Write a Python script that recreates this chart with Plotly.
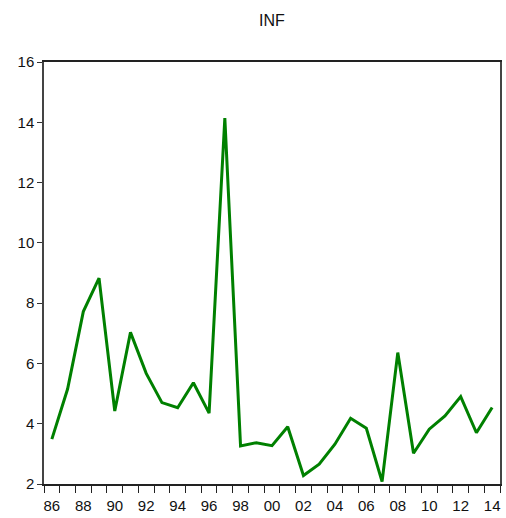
import plotly.graph_objects as go

years = list(range(1986, 2015))
inf = [3.49, 5.15, 7.72, 8.83, 4.42, 7.03, 5.67, 4.70, 4.53, 5.36,
       4.35, 14.14, 3.26, 3.37, 3.27, 3.90, 2.28, 2.66, 3.32, 4.18,
       3.85, 2.08, 6.36, 3.02, 3.82, 4.26, 4.90, 3.70, 4.54]
x_label_years = list(range(1986, 2015, 2))
x_labels = [f"{y % 100:02d}" for y in x_label_years]
y_ticks = [2, 4, 6, 8, 10, 12, 14, 16]

FONT = "Liberation Sans Narrow, Arial Narrow, Liberation Sans, Arial, sans-serif"

fig = go.Figure()
fig.add_trace(go.Scatter(x=years, y=inf, mode="lines",
                         line=dict(color="#008000", width=3)))

fig.update_layout(
    width=506, height=518,
    margin=dict(l=44, r=6, t=62, b=34),
    paper_bgcolor="white", plot_bgcolor="white",
    showlegend=False,
    font=dict(family=FONT, size=15, color="#111111"),
    title=dict(text="INF", x=272 / 506, xanchor="center",
               y=1 - 20 / 518, yanchor="middle",
               font=dict(family=FONT, size=16, color="#111111")),
)
fig.update_xaxes(
    range=[years[0] - 0.5, years[-1] + 0.5],
    automargin=False,
    tickmode="array", tickvals=x_label_years, ticktext=x_labels,
    ticks="outside", ticklen=7, tickcolor="rgba(0,0,0,0)",
    minor=dict(tickmode="array",
               tickvals=[y - 0.5 for y in years] + [years[-1] + 0.5],
               ticks="outside", ticklen=7, tickcolor="#222222", tickwidth=1.3),
    showline=True, linecolor="#222222", linewidth=1.5, mirror=True,
    showgrid=False, zeroline=False,
)
fig.update_yaxes(
    range=[2, 16],
    automargin=False,
    tickmode="array", tickvals=y_ticks,
    ticks="outside", ticklen=5, tickcolor="#333333",
    showline=True, linecolor="#444444", linewidth=1.5, mirror=True,
    showgrid=False, zeroline=False,
)

fig.write_html(
    "out.html",
    config={"displayModeBar": False},
    post_script="document.body.style.margin='0';document.body.style.overflow='hidden';",
)
